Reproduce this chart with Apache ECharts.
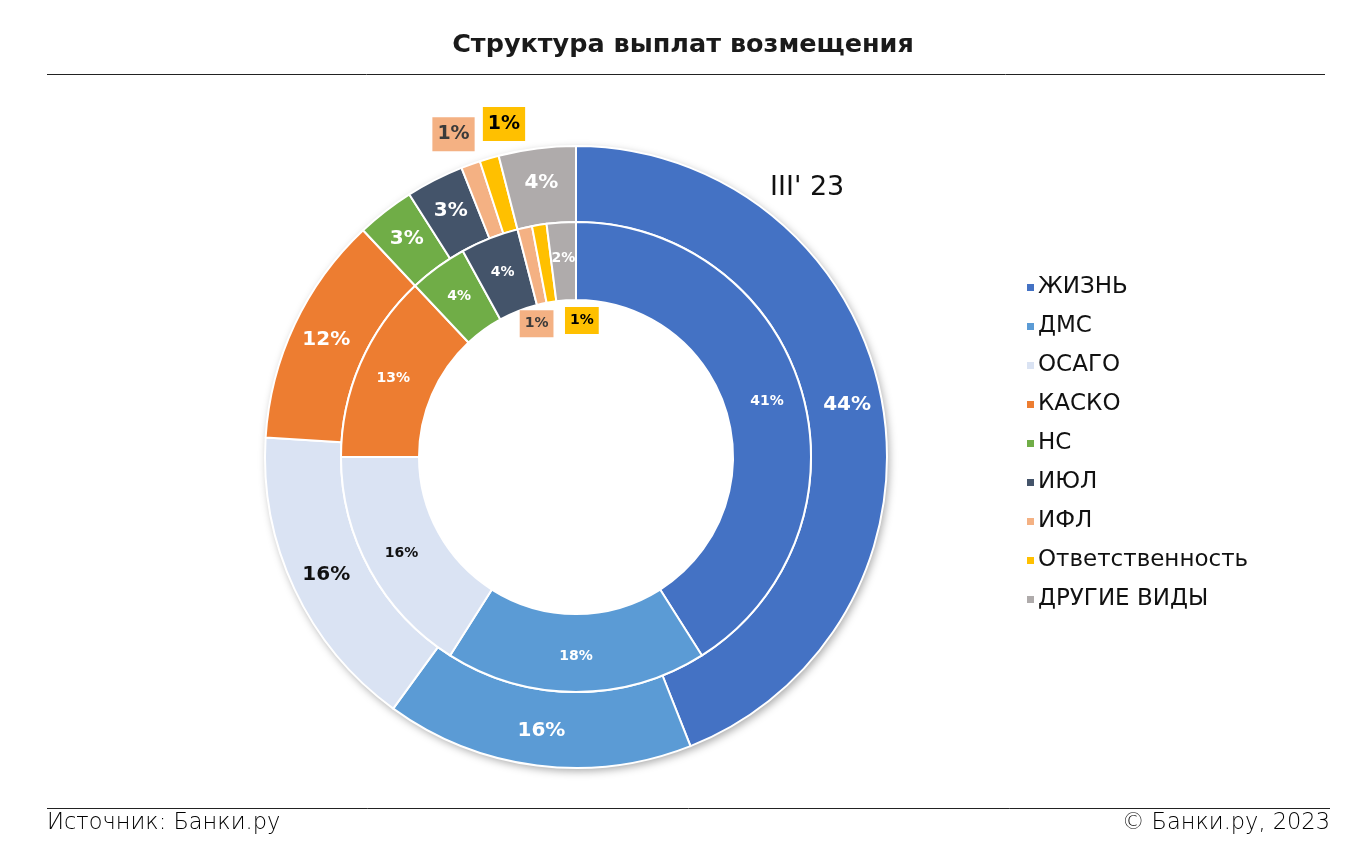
<!DOCTYPE html>
<html>
<head>
<meta charset="utf-8">
<script src="https://cdn.jsdelivr.net/npm/echarts@6/dist/echarts.min.js"></script>
<style>
  html, body { margin: 0; padding: 0; background: #fff; }
  #main { width: 1366px; height: 850px; }
</style>
</head>
<body>
<div id="main"></div>
<script>
// categories and values
const categories = ['ЖИЗНЬ', 'ДМС', 'ОСАГО', 'КАСКО', 'НС', 'ИЮЛ', 'ИФЛ', 'Ответственность', 'ДРУГИЕ ВИДЫ'];
const colors = ['#4472C4', '#5B9BD5', '#DAE3F3', '#ED7D31', '#70AD47', '#44546A', '#F4B183', '#FFC000', '#AFABAB'];
const values2023 = [44, 16, 16, 12, 3, 3, 1, 1, 4];
const values2022 = [41, 18, 16, 13, 4, 4, 1, 1, 2];

const FONT = '"DejaVu Sans", sans-serif';

const chartDom = document.getElementById('main');
const myChart = echarts.init(chartDom);

// small slices get their label moved out of the ring, in a coloured box
const smallIdx = [6, 7];
const labelShift = {
  outer: { 6: [-29, -63], 7: [5, -68] },
  inner: { 6: [4, 61], 7: [37, 60] }
};

function makeData(values, ring) {
  return values.map((v, i) => {
    const item = { name: categories[i], value: v, itemStyle: { color: colors[i] } };
    if (i === 2) {
      item.label = { color: '#111' };
    }
    if (smallIdx.includes(i)) {
      item.label = {
        color: i === 6 ? '#3a3a3a' : '#000',
        backgroundColor: colors[i],
        padding: ring === 'outer' ? [8, 5, 7, 5] : [7, 5, 6, 5],
        fontSize: ring === 'outer' ? 19 : 14
      };
    }
    return item;
  });
}

const option = {
  animation: false,
  title: {
    text: 'Структура выплат возмещения',
    left: 'center',
    top: 27,
    textStyle: { fontFamily: FONT, fontSize: 25.5, fontWeight: 'bold', color: '#1a1a1a' }
  },
  legend: {
    orient: 'vertical',
    left: 1020,
    top: 271,
    itemWidth: 9,
    itemHeight: 9,
    itemGap: 16,
    icon: 'rect',
    selectedMode: false,
    data: categories,
    textStyle: { fontFamily: FONT, fontSize: 23, color: '#111', lineHeight: 23, padding: [0, 0, 0, -2] }
  },
  graphic: [
    { type: 'line', shape: { x1: 47, y1: 74.5, x2: 1325, y2: 74.5 }, style: { stroke: '#222', lineWidth: 1 } },
    { type: 'line', shape: { x1: 47, y1: 808.5, x2: 1330, y2: 808.5 }, style: { stroke: '#222', lineWidth: 1 } },
    { type: 'text', left: 47, top: 812, style: { text: 'Источник: Банки.ру', font: '200 22.5px ' + FONT, fill: '#000' } },
    { type: 'text', right: 36, top: 812, style: { text: '© Банки.ру, 2023', font: '200 22.5px ' + FONT, fill: '#000' } },
    { type: 'text', left: 770, top: 174, style: { text: "III' 23", font: '27px ' + FONT, fill: '#111' } },
    { type: 'text', left: 611, top: 371, style: { text: "III '22", font: '27px ' + FONT, fill: '#111' } }
  ],
  series: [
    {
      // backdrop that carries the soft shadow of the outer ring
      type: 'pie',
      silent: true,
      center: [576, 457],
      radius: [0, 311],
      label: { show: false },
      labelLine: { show: false },
      z: 1,
      itemStyle: { color: '#fff', shadowBlur: 8, shadowOffsetX: 2, shadowOffsetY: 3, shadowColor: 'rgba(0,0,0,0.35)' },
      data: [{ value: 1 }]
    },
    {
      name: "III' 23",
      type: 'pie',
      center: [576, 457],
      radius: [235, 311],
      startAngle: 90,
      avoidLabelOverlap: false,
      z: 2,
      itemStyle: { borderColor: '#fff', borderWidth: 2 },
      label: {
        show: true,
        position: 'inside',
        formatter: '{c}%',
        fontFamily: FONT,
        fontWeight: 'bold',
        fontSize: 20,
        color: '#fff'
      },
      labelLine: { show: false },
      labelLayout: function (p) {
        const s = labelShift.outer[p.dataIndex];
        return s ? { dx: s[0], dy: s[1] } : {};
      },
      data: makeData(values2023, 'outer')
    },
    {
      name: "III '22",
      type: 'pie',
      center: [576, 457],
      radius: [157, 235],
      startAngle: 90,
      avoidLabelOverlap: false,
      z: 3,
      itemStyle: { borderColor: '#fff', borderWidth: 2 },
      label: {
        show: true,
        position: 'inside',
        formatter: '{c}%',
        fontFamily: FONT,
        fontWeight: 'bold',
        fontSize: 14,
        color: '#fff'
      },
      labelLine: { show: false },
      labelLayout: function (p) {
        const s = labelShift.inner[p.dataIndex];
        return s ? { dx: s[0], dy: s[1] } : {};
      },
      data: makeData(values2022, 'inner')
    }
  ]
};

option && myChart.setOption(option);
</script>
</body>
</html>
